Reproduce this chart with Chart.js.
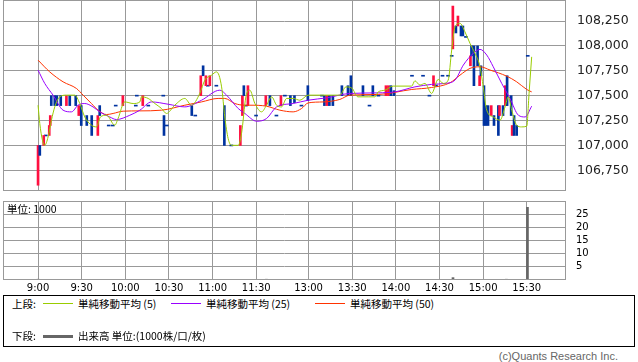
<!DOCTYPE html>
<html lang="ja">
<head>
    <meta charset="UTF-8">
    <title>Intraday chart</title>
    <script src="https://cdn.jsdelivr.net/npm/chart.js"></script>
    <style>
        body {
            margin: 0;
            background: #fff;
            font-family: 'Noto Sans CJK JP', sans-serif;
            color: #000;
        }
        #wrap {
            position: relative;
            width: 638px;
            height: 362px;
            overflow: hidden;
        }
        canvas { position: absolute; left: 0; }
        #priceChart { top: 0; }
        #volChart { top: 196px; }
        .txt {
            position: absolute;
            font-size: 10.5px;
            line-height: 14px;
            white-space: nowrap;
        }
        .swatch { position: absolute; height: 1px; width: 30px; }
        .legend {
            position: absolute;
            left: 3px;
            top: 295px;
            width: 632px;
            height: 52px;
            box-sizing: border-box;
            border: 1px solid #000;
        }
        .copy {
            position: absolute;
            right: 20px;
            top: 350px;
            font-family: 'Liberation Sans', sans-serif;
            font-size: 11px;
            color: #666;
        }
    </style>
</head>
<body>
<div id="wrap">
    <canvas id="priceChart" width="638" height="191"></canvas>
    <canvas id="volChart" width="638" height="99"></canvas>
    <div class="txt" style="left:7px; top:202px;">単位: 1000</div>

    <div class="legend"></div>
    <div class="txt" style="left:12px; top:297px;">上段:</div>
    <div class="swatch" style="left:43px; top:303px; background:#99cc00;"></div>
    <div class="txt" style="left:78px; top:297px;">単純移動平均 (5)</div>
    <div class="swatch" style="left:171px; top:303px; background:#9900ff;"></div>
    <div class="txt" style="left:206px; top:297px;">単純移動平均 (25)</div>
    <div class="swatch" style="left:315px; top:303px; background:#ff3300;"></div>
    <div class="txt" style="left:350px; top:297px;">単純移動平均 (50)</div>
    <div class="txt" style="left:12px; top:329px;">下段:</div>
    <div class="swatch" style="left:43px; top:335px; height:3px; background:#666;"></div>
    <div class="txt" style="left:78px; top:329px;">出来高 単位:(1000株/口/枚)</div>

    <div class="copy">(c)Quants Research Inc.</div>
</div>

<script>
    // x values are minutes from 9:00; the lunch break is squeezed so 12:30 sits at 156
    const timeTicks = [0, 30, 60, 90, 120, 150, 186, 216, 246, 276, 306, 336];
    const timeLabels = ['9:00', '9:30', '10:00', '10:30', '11:00', '11:30', '13:00', '13:30', '14:00', '14:30', '15:00', '15:30'];
    const priceTicks = [106750, 107000, 107250, 107500, 107750, 108000, 108250];
    const volTicks = [5, 10, 15, 20, 25];

    // candles (body only)
    const candleTime = [0, 1.2, 3.9, 7.7, 8.4, 9.1, 11.5, 12.9, 15.6, 19.5, 21.8, 25.9, 28, 29.7, 33.5, 36.9, 41.1, 42.4, 58.3, 72,
        86.6, 105.7, 111.9, 113.5, 115.4, 118.1, 128.1, 139.1, 140.5, 141.5, 144.3, 156.6, 159.4, 167, 173.5, 176.3, 185.5,
        196.9, 198.6, 200.3, 202.7, 208.9, 213.1, 215.1, 223.4, 230.2, 239.2, 240.9, 242.6, 244.7, 271.9,
        285.2, 287.3, 288.7, 290.8, 292.1, 297.3, 298, 299.7, 302.2, 303.6, 304.5, 306.6, 307.9, 309.4, 311.6, 313.5,
        316.5, 317.3, 319.7, 321.3, 322.5, 325.3, 326, 327.3, 329.1];
    const candleOpen = [106600, 107000, 107000, 107100, 107200, 107500, 107500, 107500, 107500, 107400, 107500, 107500, 107300, 107400, 107300, 107300, 107100, 107400, 107400, 107400,
        107300, 107400, 107500, 107800, 107600, 107600, 107400, 107000, 107300, 107600, 107400, 107400, 107500, 107400, 107500, 107500, 107600,
        107500, 107400, 107500, 107500, 107600, 107600, 107700, 107600, 107600, 107500, 107500, 107600, 107550, 107600,
        107970, 108200, 108200, 108200, 108200, 107800, 108000, 108000, 108000, 107600, 107800, 107600, 107400, 107400, 107300, 107300,
        107400, 107300, 107400, 107400, 107700, 107500, 107100, 107300, 107200];
    const candleClose = [107000, 106900, 107100, 107200, 107300, 107400, 107400, 107400, 107400, 107500, 107400, 107400, 107400, 107200, 107200, 107100, 107300, 107300, 107500, 107500,
        107100, 107300, 107700, 107700, 107700, 107700, 107000, 107200, 107500, 107500, 107600, 107500, 107400, 107500, 107400, 107430, 107450,
        107400, 107500, 107400, 107400, 107500, 107500, 107500, 107500, 107500, 107600, 107600, 107500, 107500, 107700,
        108400, 108130, 108300, 108100, 108100, 107900, 107900, 107600, 107800, 107700, 107700, 107200, 107200, 107200, 107400, 107200,
        107100, 107400, 107300, 107600, 107400, 107300, 107200, 107100, 107100];

    // flat candles, drawn as short dashes
    const dojiTime = [5.3, 48.6, 51.4, 53.4, 67.2, 67.9, 75.8, 86.1, 88.5, 108.1, 116.7, 122.6, 132.9, 142.9, 149.9, 163.9, 169.7,
        181.1, 195.2, 227.9, 234, 257.1, 264.7, 269.1, 273.6, 278.1, 281.9, 284.4, 294.2, 336.7];
    const dojiPrice = [107100, 107200, 107200, 107400, 107400, 107500, 107400, 107500, 107200, 107300, 107600, 107600, 107000, 107400, 107300, 107300, 107500,
        107400, 107500, 107400, 107500, 107700, 107700, 107500, 107600, 107700, 107700, 107900, 108090, 107900];

    const ma5Time = [0, 1.2, 3, 4.6, 6.9, 9.2, 11.5, 14.9, 19.5, 25.2, 28.7, 32.1, 36.7, 40.2, 42.9, 47.1, 52.8, 55, 59.6, 65.4, 70,
        71.1, 75.7, 80.3, 84.9, 88.3, 94, 100.9, 105.5, 111.2, 114.7, 119.3, 122.7, 126.2, 128.4, 130.7, 133.1, 137.6, 139.9, 142.9,
        145.6, 149.1, 153.7, 157.1, 160.6, 164, 167.4, 170.9, 175.4, 180, 185.7, 207.5, 211.7, 215.8, 219.9, 227, 231.6, 233.9, 238.5,
        244.2, 256.9, 259.1, 262.6, 266, 270.6, 275.1, 278.6, 282, 284.4, 286.7, 290.1, 293.5, 297, 300.4, 303.9, 306.1, 308.5, 313,
        317.6, 321.1, 323.3, 325.7, 329.1, 332.5, 336, 337.6, 339.4];
    const ma5 = [107404, 107220, 107052, 107001, 107085, 107253, 107387, 107488, 107505, 107505, 107421, 107286, 107203, 107186, 107286, 107303, 107203, 107270, 107437, 107421, 107437,
        107488, 107472, 107421, 107371, 107321, 107404, 107472, 107404, 107522, 107656, 107706, 107739, 107588, 107286, 107069, 107001, 107001, 107119, 107488,
        107555, 107421, 107337, 107404, 107488, 107404, 107387, 107472, 107472, 107454, 107505, 107505, 107588, 107575, 107488, 107488, 107488, 107538, 107555,
        107596, 107596, 107649, 107606, 107623, 107522, 107663, 107623, 107656, 107958, 108193, 108227, 108142, 108025, 107925, 107790, 107588, 107354, 107286,
        107253, 107387, 107488, 107354, 107203, 107186, 107193, 107522, 107890];

    const ma25Time = [0, 4.6, 10.3, 17.2, 23, 27.5, 32.1, 37.8, 42.4, 49.3, 53.9, 63.1, 70, 78, 89.4, 100.9, 112.4, 125, 129.6, 137.6,
        142.2, 150.3, 157.1, 164, 175.4, 185.7, 198.4, 214.4, 233.9, 245.4, 259.1, 270.6, 279.8, 286.7, 292.4, 299.3, 303.9, 308.5,
        313, 318.8, 324.5, 330.3, 334.9, 339.4];
    const ma25 = [107757, 107623, 107505, 107354, 107337, 107404, 107421, 107387, 107337, 107286, 107260, 107303, 107354, 107437, 107414, 107387, 107454, 107555, 107505, 107371,
        107321, 107243, 107270, 107387, 107421, 107454, 107478, 107522, 107528, 107538, 107588, 107613, 107623, 107656, 107807, 107925, 107965, 107908,
        107790, 107623, 107472, 107303, 107286, 107394];

    const ma50Time = [0, 8, 17.2, 26.4, 31, 36.7, 41.3, 47.1, 51.6, 58.5, 70, 84.9, 100.9, 112.4, 123.8, 128.4, 135.3, 142.2, 145.6,
        157.1, 166.3, 175.4, 181.2, 185.7, 196.1, 207.5, 214.4, 233.9, 256.9, 270.6, 283.2, 290.1, 297, 303.9, 310.8, 322.2, 329.1, 336, 339.4];
    const ma50 = [107857, 107739, 107639, 107572, 107505, 107421, 107354, 107310, 107321, 107344, 107347, 107354, 107404, 107437, 107472, 107472, 107421, 107404, 107404,
        107394, 107354, 107337, 107371, 107427, 107437, 107462, 107505, 107512, 107562, 107582, 107629, 107706, 107774, 107790, 107757, 107696, 107639, 107562, 107538];

    const volTime = [0, 157, 285.3, 322, 336.5];
    const volume = [0.3, 0.3, 0.9, 0.3, 27.6];

    const GRID = '#999';
    const UP = '#ff1040';
    const DOWN = '#0033a0';

    const pts = (ts, vs) => ts.map((t, i) => ({x: t, y: vs[i]}));
    const withCommas = v => String(v).replace(/\B(?=(\d{3})+(?!\d))/g, ',');

    // gray box round each plot area
    const frame = {
        id: 'frame',
        afterDraw(chart) {
            const {ctx, chartArea: a} = chart;
            ctx.save();
            ctx.strokeStyle = GRID;
            ctx.lineWidth = 1;
            ctx.strokeRect(a.left + 0.5, a.top + 0.5, a.width - 1, a.height - 1);
            ctx.restore();
        }
    };

    const timeAxis = showLabels => ({
        type: 'linear',
        min: -24.1,
        max: 363,
        offset: false,
        grid: {color: GRID, drawTicks: false, offset: false},
        border: {display: false},
        ticks: {
            display: showLabels,
            padding: 2,
            color: '#000',
            autoSkip: false,
            maxRotation: 0,
            font: {family: 'DejaVu Sans', size: 10},
            callback: (v, i) => timeLabels[i]
        },
        afterBuildTicks: s => { s.ticks = timeTicks.map(v => ({value: v})); },
        afterFit: s => {
            s.height = showLabels ? 15 : 0;
            s.paddingLeft = 0;
            s.paddingRight = 0;
        }
    });

    const line = (label, data, color, order) => ({
        type: 'line',
        label: label,
        data: data,
        borderColor: color,
        borderWidth: 1,
        pointRadius: 0,
        cubicInterpolationMode: 'monotone',
        order: order
    });

    new Chart(document.getElementById('priceChart'), {
        type: 'bar',
        data: {
            datasets: [
                line('MA5', pts(ma5Time, ma5), '#99cc00', 0),
                line('MA25', pts(ma25Time, ma25), '#9900ff', 1),
                line('MA50', pts(ma50Time, ma50), '#ff3300', 2),
                {
                    label: 'candles',
                    data: candleTime.map((t, i) => ({x: t, y: [candleOpen[i], candleClose[i]]})),
                    backgroundColor: candleOpen.map((o, i) => candleClose[i] > o ? UP : DOWN),
                    barThickness: 2,
                    grouped: false,
                    order: 3
                },
                {
                    label: 'doji',
                    data: dojiTime.map((t, i) => ({x: t, y: [dojiPrice[i] - 5, dojiPrice[i] + 5]})),
                    backgroundColor: DOWN,
                    barThickness: 3,
                    grouped: false,
                    order: 3
                }
            ]
        },
        options: {
            responsive: false,
            animation: false,
            layout: {padding: {left: 3, top: 0, right: 0, bottom: 0}},
            plugins: {legend: {display: false}, tooltip: {enabled: false}},
            scales: {
                x: timeAxis(false),
                y: {
                    position: 'right',
                    min: 106542,
                    max: 108461,
                    grid: {color: GRID, drawTicks: false},
                    border: {display: false},
                    ticks: {
                        padding: 11,
                        color: '#222',
                        font: {family: 'DejaVu Sans', size: 12.5},
                        callback: v => withCommas(v)
                    },
                    afterBuildTicks: s => { s.ticks = priceTicks.map(v => ({value: v})); },
                    afterFit: s => { s.width = 72; s.paddingTop = 0; s.paddingBottom = 0; }
                }
            }
        },
        plugins: [frame]
    });

    new Chart(document.getElementById('volChart'), {
        type: 'bar',
        data: {
            datasets: [{
                label: '出来高',
                data: pts(volTime, volume),
                backgroundColor: '#666',
                barThickness: 2,
                grouped: false
            }]
        },
        options: {
            responsive: false,
            animation: false,
            layout: {padding: {left: 3, top: 5, right: 0, bottom: 0}},
            plugins: {legend: {display: false}, tooltip: {enabled: false}},
            scales: {
                x: timeAxis(true),
                y: {
                    position: 'right',
                    min: 0,
                    max: 30,
                    grid: {color: GRID, drawTicks: false},
                    border: {display: false},
                    ticks: {
                        padding: 10,
                        color: '#000',
                        font: {family: 'DejaVu Sans', size: 10}
                    },
                    afterBuildTicks: s => { s.ticks = volTicks.map(v => ({value: v})); },
                    afterFit: s => { s.width = 72; s.paddingTop = 0; s.paddingBottom = 0; }
                }
            }
        },
        plugins: [frame]
    });
</script>
</body>
</html>
